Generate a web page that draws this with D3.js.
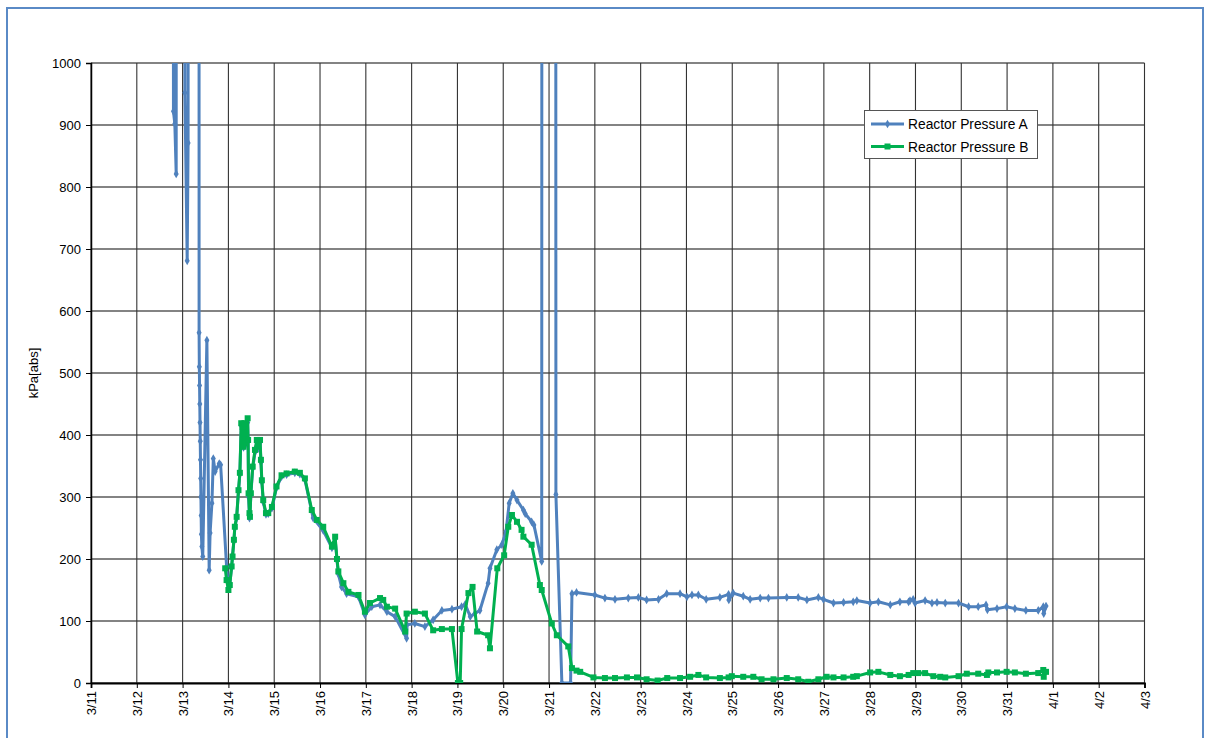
<!DOCTYPE html>
<html><head><meta charset="utf-8">
<script src="https://cdn.jsdelivr.net/npm/d3@7"></script>
<style>body{margin:0;background:#fff;} svg{display:block;font-family:"Liberation Sans",Arial,sans-serif;}</style>
</head><body><svg id="c" width="1207" height="738"></svg>
<script>
// Day of March (fractional); 32 = 4/1
const tickDays = d3.range(11, 35);
const tickLabels = ["3/11","3/12","3/13","3/14","3/15","3/16","3/17","3/18","3/19","3/20","3/21","3/22","3/23","3/24","3/25","3/26","3/27","3/28","3/29","3/30","3/31","4/1","4/2","4/3"];
const yTicks = [0,100,200,300,400,500,600,700,800,900,1000];
const seriesNames = ["Reactor Pressure A","Reactor Pressure B"];

const daysA = [12.76,12.80,12.83,12.86,12.88,13.04,13.05,13.10,13.12,13.14,13.35,13.36,13.365,13.37,13.375,13.38,13.385,13.39,13.395,13.40,13.405,13.41,13.42,13.44,13.53,13.58,13.60,13.64,13.67,13.71,13.80,13.83,13.96,
14.00,14.03,14.07,14.09,14.12,14.14,14.18,14.22,14.25,14.28,14.31,14.33,14.35,14.38,14.42,14.43,14.44,14.46,14.47,14.49,14.53,14.58,14.62,14.65,14.69,14.71,14.73,14.76,14.82,14.87,14.95,15.05,15.16,15.27,15.45,15.56,15.67,15.85,16.07,16.26,16.33,16.37,16.40,16.47,16.58,16.84,16.98,17.13,17.31,17.46,17.64,17.89,17.90,18.07,18.29,18.47,18.66,18.88,19.09,19.17,19.28,19.38,19.49,19.67,19.71,19.86,19.97,20.06,20.13,20.21,20.30,20.44,20.48,20.62,20.67,20.84,20.86,21.13,21.15,21.28,21.47,21.50,21.60,22.00,22.22,22.44,22.73,22.95,23.13,23.39,23.57,23.86,24.01,24.12,24.26,24.43,24.73,24.92,24.925,25.02,25.24,25.39,25.61,25.79,26.19,26.44,26.63,26.88,26.99,27.21,27.43,27.64,27.72,28.01,28.19,28.45,28.66,28.85,28.88,28.95,28.99,29.21,29.36,29.47,29.65,29.94,30.16,30.37,30.54,30.57,30.78,30.99,31.17,31.41,31.68,31.79,31.80,31.85];
const valuesA = [7000,922,902,821,7000,7000,952,681,871,7000,7000,565,510,480,450,420,390,360,330,300,270,240,220,204,553,182,242,290,362,341,354,352,188,
152,160,186,206,229,250,266,309,337,415,410,380,416,385,420,390,300,266,270,304,346,372,388,378,388,356,324,292,272,273,282,315,333,336,339,337,328,266,246,218,232,198,176,155,144,139,110,123,126,115,107,72,94,96,91,102,117,119,123,127,107,112,117,161,185,215,223,244,290,306,295,279,273,260,255,196,7000,7000,304,0,0,144,146,142,137,135,137,138,134,135,144,144,139,142,142,135,138,143,134,145,140,135,137,137,138,138,134,138,135,129,130,131,133,129,131,126,131,131,133,135,129,133,129,130,129,129,123,123,126,118,120,123,120,117,117,123,112,124];

const daysB = [13.93,13.96,14.00,14.03,14.07,14.09,14.12,14.14,14.18,14.22,14.25,14.28,14.31,14.33,14.35,14.38,14.42,14.43,14.44,14.46,14.47,14.49,14.53,14.58,14.62,14.65,14.69,14.71,14.73,14.76,14.82,14.87,14.95,15.05,15.16,15.27,15.45,15.56,15.67,15.82,15.93,16.07,16.26,16.33,16.37,16.40,16.51,16.62,16.84,16.98,17.09,17.31,17.38,17.46,17.64,17.86,17.89,18.07,18.29,18.47,18.66,18.88,19.01,19.06,19.09,19.24,19.33,19.43,19.67,19.71,19.87,20.02,20.11,20.19,20.30,20.40,20.44,20.62,20.80,20.84,21.06,21.17,21.42,21.50,21.60,21.68,21.97,22.22,22.44,22.70,22.92,23.13,23.37,23.58,23.86,24.08,24.26,24.43,24.73,24.92,24.99,25.24,25.46,25.64,25.90,26.19,26.44,26.66,26.88,27.06,27.21,27.43,27.64,27.72,28.01,28.19,28.45,28.66,28.85,28.95,29.06,29.21,29.39,29.54,29.65,29.94,30.12,30.37,30.56,30.59,30.78,30.99,31.17,31.41,31.68,31.79,31.80,31.85];
const valuesB = [185,166,150,158,188,204,231,252,268,311,339,419,413,381,419,387,427,392,306,274,268,306,349,376,392,381,392,360,327,295,274,274,284,317,335,338,341,339,330,279,263,252,220,236,200,180,161,147,142,115,129,137,134,123,120,83,112,115,112,85,87,87,0,0,87,145,155,83,77,56,185,206,252,271,260,247,236,223,158,150,96,77,59,24,20,18,9,8,8,9,9,6,4,8,8,10,13,9,8,9,11,10,10,6,6,8,6,2,6,10,9,9,10,11,17,18,13,11,13,16,16,16,11,10,9,11,15,15,13,17,17,18,17,15,16,21,10,18];

const svg = d3.select("#c");
const L = 91, R = 1144.5, T = 63, B = 683;
const x = d3.scaleLinear().domain([11, 34]).range([L, R]);
const y = d3.scaleLinear().domain([0, 1000]).range([B, T]);

// outer frame
svg.append("rect").attr("x",7).attr("y",8).attr("width",1196).attr("height",760)
  .attr("fill","none").attr("stroke","#5a8ac6").attr("stroke-width",2);

// grid
const g = svg.append("g");
g.selectAll(".hg").data(yTicks).join("line")
  .attr("x1",L).attr("x2",R).attr("y1",d=>y(d)).attr("y2",d=>y(d))
  .attr("stroke","#5a5a5a").attr("stroke-width",1.3);
g.selectAll(".vg").data(tickDays).join("line")
  .attr("x1",d=>x(d)).attr("x2",d=>x(d)).attr("y1",T).attr("y2",B)
  .attr("stroke","#333").attr("stroke-width",1.1);

// axes
const yAxis = svg.append("g").attr("transform",`translate(${L},0)`)
  .call(d3.axisLeft(y).tickValues(yTicks).tickFormat(d3.format("d")).tickSize(5).tickPadding(5));
yAxis.select(".domain").attr("stroke","#000").attr("stroke-width",1.5);
yAxis.selectAll("text").attr("font-size",13).attr("fill","#000").attr("font-family","Liberation Sans, Arial, sans-serif");
const xAxis = svg.append("g").attr("transform",`translate(0,${B})`)
  .call(d3.axisBottom(x).tickValues(tickDays).tickSize(5).tickFormat((d,i)=>tickLabels[i]));
xAxis.select(".domain").attr("stroke","#000").attr("stroke-width",1.8);
xAxis.selectAll("text").attr("font-size",13).attr("fill","#000")
  .attr("font-family","Liberation Sans, Arial, sans-serif")
  .attr("transform","rotate(-90)").attr("text-anchor","end")
  .attr("y",0).attr("x",-8).attr("dy","0.35em");

svg.append("text").attr("transform","translate(38,373) rotate(-90)").attr("text-anchor","middle")
  .attr("font-size",13).attr("fill","#000").text("kPa[abs]");

// clip
svg.append("clipPath").attr("id","clip").append("rect").attr("x",L).attr("y",T).attr("width",R-L).attr("height",B-T);

const dataA = daysA.map((d,i)=>({d, v: valuesA[i]}));
const dataB = daysB.map((d,i)=>({d, v: valuesB[i]}));
const line = d3.line().x(p=>x(p.d)).y(p=>y(p.v));
const plot = svg.append("g").attr("clip-path","url(#clip)");

const blue = "#4f81bd", green = "#00b050";
plot.append("path").datum(dataA).attr("d",line).attr("fill","none").attr("stroke",blue).attr("stroke-width",3).attr("stroke-linejoin","round");
plot.selectAll(".ma").data(dataA.filter(p=>p.v<=1000)).join("path")
  .attr("d",d3.symbol(d3.symbolDiamond,22)()).attr("transform",p=>`translate(${x(p.d)},${y(p.v)})`).attr("fill",blue);

plot.append("path").datum(dataB).attr("d",line).attr("fill","none").attr("stroke",green).attr("stroke-width",3).attr("stroke-linejoin","round");
plot.selectAll(".mb").data(dataB).join("rect")
  .attr("x",p=>x(p.d)-3).attr("y",p=>y(p.v)-3).attr("width",6).attr("height",6).attr("fill",green);

// legend
const lg = svg.append("g");
lg.append("rect").attr("x",864.5).attr("y",110.5).attr("width",173).attr("height",48).attr("fill","#fff").attr("stroke","#555").attr("stroke-width",1);
[[blue,"d"],[green,"s"]].forEach((c,i)=>{
  const yy = 124 + i*22.5;
  lg.append("line").attr("x1",871).attr("x2",904).attr("y1",yy).attr("y2",yy).attr("stroke",c[0]).attr("stroke-width",3);
  if(c[1]==="d") lg.append("path").attr("d",d3.symbol(d3.symbolDiamond,22)()).attr("transform",`translate(887.5,${yy})`).attr("fill",c[0]);
  else lg.append("rect").attr("x",884.5).attr("y",yy-3).attr("width",6).attr("height",6).attr("fill",c[0]);
  lg.append("text").attr("x",908).attr("y",yy+5).attr("font-size",13.8).attr("fill","#000").text(seriesNames[i]);
});
</script></body></html>
